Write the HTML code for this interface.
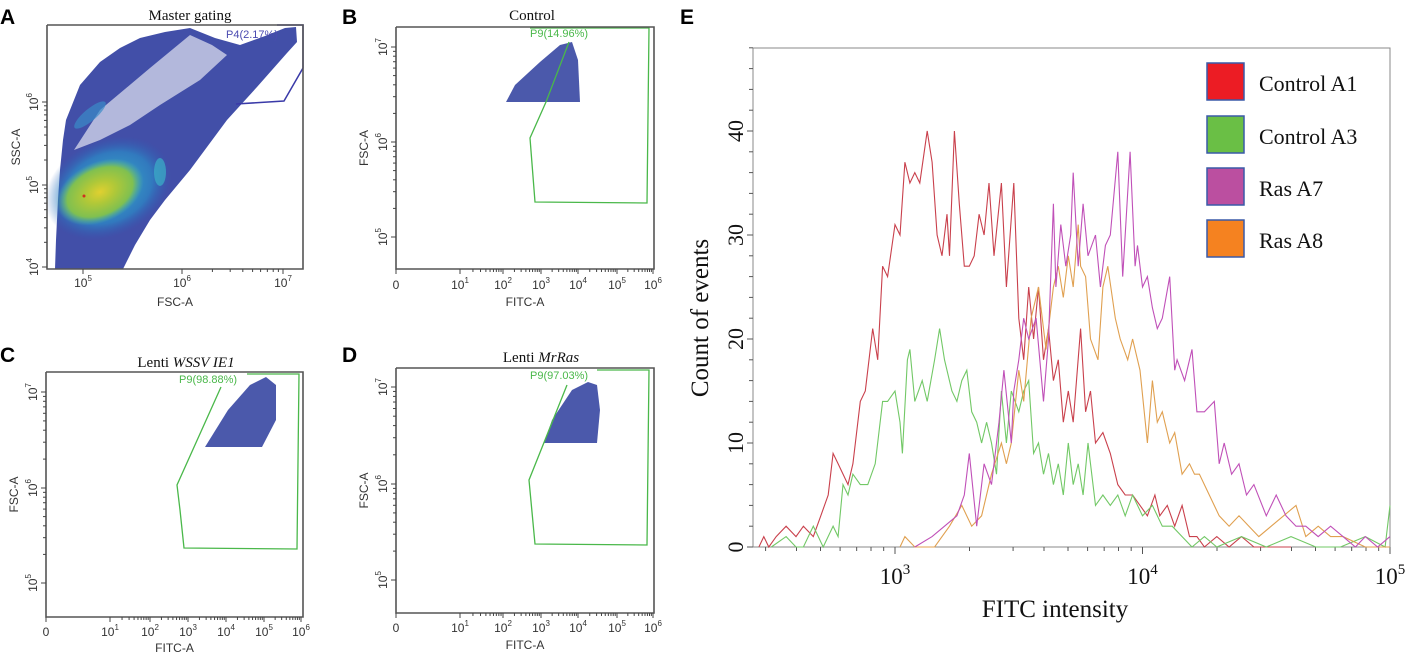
<!DOCTYPE html>
<html><head><meta charset="utf-8"><style>
body{margin:0;background:#fff;width:1419px;height:658px;overflow:hidden}
svg{display:block}
.lt{font-family:"Liberation Sans",sans-serif;font-size:12px;fill:#333}
.ttl{font-family:"Liberation Serif",serif;font-size:15px;fill:#111}
.pl{font-family:"Liberation Sans",sans-serif;font-weight:bold;font-size:21px;fill:#000}
.se{font-family:"Liberation Serif",serif;fill:#111}
</style></head><body>
<svg id="fig" width="1419" height="658" viewBox="0 0 1419 658">
<defs>
<radialGradient id="gCy"><stop offset="0" stop-color="#3cc0c8"/><stop offset="0.7" stop-color="#2a8cc8" stop-opacity="0.7"/><stop offset="1" stop-color="#2a60b8" stop-opacity="0"/></radialGradient>
<radialGradient id="gGr"><stop offset="0" stop-color="#e0d030"/><stop offset="0.35" stop-color="#b0c838"/><stop offset="0.75" stop-color="#80c050"/><stop offset="1" stop-color="#50b8a0" stop-opacity="0"/></radialGradient>
</defs>

<!-- Panel A -->
<g>
<text class="pl" x="0" y="24">A</text>
<text class="ttl" x="190" y="20" text-anchor="middle">Master gating</text>
<polygon points="55,269 56,240 58,200 60,170 63,140 66,120 80,85 100,62 120,48 140,38 165,32 190,28 215,38 240,45 265,36 285,28 296,27 297,42 287,53 257,87 227,120 190,170 165,200 150,220 135,245 123,269" fill="#2d3c9e" opacity="0.9"/>
<polygon points="74,150 100,110 150,68 190,35 212,45 227,55 200,80 160,105 130,125 100,140" fill="#ffffff" opacity="0.6"/>
<ellipse cx="90" cy="115" rx="20" ry="6" fill="#3a8cc8" opacity="0.7" transform="rotate(-40 90 115)"/>
<ellipse cx="108" cy="188" rx="66" ry="48" fill="url(#gCy)" transform="rotate(-25 108 188)"/>
<ellipse cx="100" cy="192" rx="46" ry="30" fill="url(#gGr)" transform="rotate(-25 100 192)"/>
<ellipse cx="160" cy="172" rx="6" ry="14" fill="#3ab0c8" opacity="0.7"/>
<circle cx="84" cy="196" r="1.5" fill="#d03020"/>
<polyline points="236,104 284,101 303,68 303,25 277,25" fill="none" stroke="#3a3aa8" stroke-width="1.5"/>
<text x="226" y="38" font-family="Liberation Sans" font-size="11" fill="#4a4ab0">P4(2.17%)</text>
<g id="axA"></g>
</g>

<g>
<text class="pl" x="342" y="24">B</text>
<text class="ttl" x="532" y="20" text-anchor="middle">Control</text>
<polygon points="506,102 580,102 578,60 572,42 560,45 540,62 515,85" fill="#2c3c9c" opacity="0.85"/>
<polyline points="569,42 546,102 530,138 535,202 647,203 649,28 530,28" fill="none" stroke="#4ab84a" stroke-width="1.3"/>
<text x="530" y="37" font-family="Liberation Sans" font-size="11" fill="#4ab84a">P9(14.96%)</text>
<g id="axB"></g>
</g>

<g>
<text class="pl" x="0" y="362">C</text>
<text class="ttl" x="186" y="367" text-anchor="middle">Lenti <tspan font-style="italic">WSSV IE1</tspan></text>
<polygon points="205,447 262,447 276,420 276,385 266,377 250,385 228,410" fill="#2c3c9c" opacity="0.85"/>
<polyline points="221,387 177,485 180,510 184,548 297,549 299,374 247,374" fill="none" stroke="#4ab84a" stroke-width="1.3"/>
<text x="179" y="383" font-family="Liberation Sans" font-size="11" fill="#4ab84a">P9(98.88%)</text>
<g id="axC"></g>
</g>

<g>
<text class="pl" x="342" y="362">D</text>
<text class="ttl" x="541" y="362" text-anchor="middle">Lenti <tspan font-style="italic">MrRas</tspan></text>
<polygon points="544,443 597,443 600,410 597,385 588,382 572,390 552,420" fill="#2c3c9c" opacity="0.85"/>
<polyline points="567,385 529,480 535,544 647,545 649,370 597,370" fill="none" stroke="#4ab84a" stroke-width="1.3"/>
<text x="530" y="379" font-family="Liberation Sans" font-size="11" fill="#4ab84a">P9(97.03%)</text>
<g id="axD"></g>
</g>

<!-- Panel E -->
<g>
<text class="pl" x="680" y="24">E</text>
<rect x="753" y="48" width="637" height="499" fill="none" stroke="#888" stroke-width="1"/>
<g id="eAxes"></g>
<g id="eLines"></g>
<g>
<rect x="1207" y="63" width="37" height="37" fill="#ec1c24" stroke="#3a5aa8" stroke-width="1.5"/>
<text class="se" x="1259" y="91" font-size="22">Control A1</text>
<rect x="1207" y="116" width="37" height="37" fill="#6abf45" stroke="#3a5aa8" stroke-width="1.5"/>
<text class="se" x="1259" y="144" font-size="22">Control A3</text>
<rect x="1207" y="168" width="37" height="37" fill="#bb4fa0" stroke="#3a5aa8" stroke-width="1.5"/>
<text class="se" x="1259" y="196" font-size="22">Ras A7</text>
<rect x="1207" y="220" width="37" height="37" fill="#f58220" stroke="#3a5aa8" stroke-width="1.5"/>
<text class="se" x="1259" y="248" font-size="22">Ras A8</text>
</g>
<text class="se" x="1055" y="617" font-size="25" text-anchor="middle">FITC intensity</text>
<text class="se" font-size="25" text-anchor="middle" transform="translate(708,318) rotate(-90)">Count of events</text>
</g>
</svg>
<script>
// ---- Panel E data ----
const redLog=[2.45,2.47,2.49,2.52,2.56,2.60,2.63,2.67,2.70,2.73,2.75,2.77,2.81,2.83,2.86,2.88,2.91,2.93,2.95,2.97,3.0,3.02,3.04,3.06,3.08,3.10,3.13,3.15,3.17,3.19,3.21,3.22,3.24,3.26,3.28,3.30,3.32,3.34,3.36,3.38,3.40,3.43,3.45,3.48,3.50,3.52,3.54,3.56,3.58,3.60,3.62,3.64,3.66,3.68,3.70,3.72,3.75,3.77,3.79,3.81,3.84,3.87,3.90,3.93,3.96,3.99,4.02,4.05,4.07,4.10,4.13,4.16,4.19,4.22,4.25,4.3,4.35,4.4,4.45,4.5,4.6];
const redCount=[0,1,0,1,2,1,2,1,3,5,9,8,6,8,14,15,21,18,27,26,31,30,37,35,36,35,40,37,30,28,32,28,40,33,27,27,28,32,30,35,28,35,25,35,22,18,25,20,25,18,21,16,18,12,15,12,21,13,15,10,11,9,6,5,5,4,3,5,3,4,2,4,1,1,0,1,0,1,0,0,0];
const greenLog=[2.5,2.56,2.60,2.63,2.67,2.71,2.75,2.77,2.79,2.81,2.83,2.86,2.89,2.92,2.95,2.97,3.0,3.02,3.03,3.05,3.06,3.08,3.11,3.13,3.16,3.18,3.20,3.23,3.25,3.27,3.29,3.31,3.33,3.35,3.37,3.39,3.41,3.43,3.45,3.47,3.50,3.52,3.54,3.56,3.58,3.60,3.62,3.64,3.66,3.68,3.70,3.72,3.74,3.76,3.78,3.81,3.84,3.87,3.90,3.93,3.96,4.0,4.04,4.08,4.12,4.16,4.2,4.25,4.3,4.4,4.5,4.6,4.7,4.8,4.9,4.98,5.0];
const greenCount=[0,1,0,0,2,0,2,1,6,5,7,6,6,8,14,14,15,12,9,18,19,14,16,14,18,21,18,15,14,16,17,13,12,10,12,10,7,15,10,15,13,15,16,9,10,7,9,6,8,5,10,6,8,5,10,4,5,4,5,3,5,3,4,2,2,1,0,1,0,1,0,1,0,0,1,0,4];
const purpleLog=[3.08,3.15,3.20,3.25,3.28,3.30,3.33,3.36,3.39,3.42,3.44,3.47,3.48,3.50,3.52,3.54,3.57,3.60,3.62,3.64,3.65,3.67,3.69,3.71,3.72,3.74,3.76,3.78,3.81,3.83,3.85,3.87,3.90,3.92,3.93,3.95,3.97,3.98,4.0,4.02,4.04,4.06,4.08,4.11,4.13,4.14,4.17,4.2,4.22,4.25,4.29,4.31,4.33,4.36,4.39,4.42,4.45,4.5,4.54,4.58,4.62,4.66,4.71,4.76,4.81,4.86,4.9,4.95,5.0];
const purpleCount=[0,1,2,3,5,9,2,8,6,12,17,10,15,18,22,20,22,14,20,33,25,31,27,30,36,27,33,28,30,25,29,30,38,26,30,38,27,29,25,26,23,21,22,26,17,18,16,19,13,13,14,8,10,7,8,5,6,3,5,3,2,2,1,2,1,0,1,0,1];
const orangeLog=[3.02,3.04,3.08,3.16,3.22,3.27,3.31,3.35,3.39,3.43,3.45,3.47,3.50,3.52,3.55,3.58,3.61,3.64,3.66,3.68,3.70,3.72,3.74,3.75,3.77,3.79,3.82,3.84,3.86,3.89,3.91,3.94,3.96,3.99,4.02,4.04,4.06,4.08,4.11,4.13,4.16,4.19,4.21,4.23,4.27,4.31,4.35,4.39,4.43,4.47,4.52,4.57,4.62,4.66,4.71,4.76,4.81,4.9,5.0];
const orangeCount=[0,1,0,0,2,4,2,3,7,10,8,10,17,14,22,25,19,25,27,24,28,25,31,27,26,20,18,25,27,22,20,18,20,17,10,16,12,13,10,11,7,8,7,7,5,3,2,3,2,1,2,3,4,1,2,1,1,0,0];
const yTicks=[0,10,20,30,40];
const xTickExp=[3,4,5];

const NS="http://www.w3.org/2000/svg";
function mk(tag,attrs,parent){const e=document.createElementNS(NS,tag);for(const k in attrs)e.setAttribute(k,attrs[k]);parent.appendChild(e);return e;}
const X0=753,X1=1390,Y0=547;
function xE(l){return 895+(l-3)*247.5;}
function yE(c){return Y0-c*10.4;}

const eAx=document.getElementById('eAxes');
for(let c=0;c<=48;c+=2){
  const t=mk('line',{x1:X0-(c%10===0?6:4),x2:X0,y1:yE(c),y2:yE(c),stroke:'#555'},eAx);
  
  
}
yTicks.forEach(v=>{
  const t=mk('text',{class:'se','font-size':22,'text-anchor':'middle',transform:`translate(${X0-10},${yE(v)}) rotate(-90)`},eAx);
  t.textContent=v;
  
  
});
for(let d=2;d<5;d++){for(let m=1;m<10;m++){const l=d+Math.log10(m);if(l<2.43||l>5)continue;
  const t=mk('line',{x1:xE(l),x2:xE(l),y1:Y0,y2:Y0+(m===1?7:4),stroke:'#555'},eAx);
  
  }}
const t5=mk('line',{x1:xE(5),x2:xE(5),y1:Y0,y2:Y0+7,stroke:'#555'},eAx);


xTickExp.forEach(e=>{
  const t=mk('text',{class:'se','font-size':23,'text-anchor':'middle',x:xE(e),y:584},eAx);
  t.innerHTML='10<tspan font-size="15" dy="-10">'+e+'</tspan>';
  
  
});
const eL=document.getElementById('eLines');
function series(lg,ct,col,name){
  const n=Math.min(lg.length,ct.length);const pts=[];
  for(let i=0;i<n;i++)pts.push(xE(lg[i]).toFixed(1)+','+yE(ct[i]).toFixed(1));
  const p=mk('polyline',{points:pts.join(' '),fill:'none',stroke:col,'stroke-width':1.1},eL);
  
  
}
series(redLog,redCount,'#c9404c','series-control-a1');
series(greenLog,greenCount,'#72c866','series-control-a3');
series(orangeLog,orangeCount,'#e0a050','series-ras-a8');
series(purpleLog,purpleCount,'#c050b8','series-ras-a7');

// ---- Flow panel axes ----
function flowAxes(id,x0,x1,y0,y1,yt,xt,xtl,yl,xl,xlblY,xtitleY,ytitleX){
  const g=document.getElementById(id);
  const r=mk('polyline',{points:`${x0},${y0} ${x1},${y0} ${x1},${y1} ${x0},${y1} ${x0},${y0}`,fill:'none',stroke:'#555','stroke-width':1.6},g);
  
  
  for(let i=0;i<yt.length;i++){const y=yt[i];
    const t=mk('line',{x1:x0-5,x2:x0,y1:y,y2:y,stroke:'#444'},g);
    
    
    const s=mk('text',{class:'lt','text-anchor':'middle',transform:`translate(${x0-9},${y}) rotate(-90)`},g);
    s.innerHTML='10<tspan font-size="8" dy="-6">'+yl[i]+'</tspan>';
    
    
    if(i<yt.length-1){const step=(yt[i+1]-y);for(let m=2;m<10;m++){const yy=y+step*Math.log10(m);if(yy<y1&&yy>y0){const mt=mk('line',{x1:x0-3,x2:x0,y1:yy,y2:yy,stroke:'#444'},g);}}}
  }
  for(let i=0;i<xt.length;i++){const x=xt[i];
    const t=mk('line',{x1:x,x2:x,y1:y1,y2:y1+5,stroke:'#444'},g);
    
    
    const s=mk('text',{class:'lt','text-anchor':'middle',x:x,y:xlblY},g);
    s.innerHTML=xtl[i]===''?'0':'10<tspan font-size="8" dy="-6">'+xtl[i]+'</tspan>';
    
    
    if(i>0&&i<xt.length-1){const step=xt[i+1]-x;for(let m=2;m<10;m++){const xx=x+step*Math.log10(m);const mt=mk('line',{x1:xx,x2:xx,y1:y1,y2:y1+3,stroke:'#444'},g);}}
  }
  const xtt=mk('text',{class:'lt','text-anchor':'middle',x:(x0+x1)/2,y:xtitleY},g);
  xtt.textContent=xl;
  
  
  const ytt=mk('text',{class:'lt','text-anchor':'middle',transform:`translate(${ytitleX},${(y0+y1)/2}) rotate(-90)`},g);
  ytt.textContent=yl.length===3&&yl[0]===4?'SSC-A':'FSC-A';
  
  
}
flowAxes('axA',47,303,25,269,[267,185,102],[83,182,283],[5,6,7],[4,5,6],'FSC-A',287,306,20);
flowAxes('axB',396,654,27,269,[237,142,47],[396,460,503,541,578,617,653],['',1,2,3,4,5,6],[5,6,7],'FITC-A',289,306,368);
flowAxes('axC',46,303,372,617,[583,488,392],[46,110,150,188,226,264,301],['',1,2,3,4,5,6],[5,6,7],'FITC-A',636,652,18);
flowAxes('axD',396,654,368,613,[580,484,387],[396,460,503,541,578,617,653],['',1,2,3,4,5,6],[5,6,7],'FITC-A',632,649,368);
</script>
</body></html>
